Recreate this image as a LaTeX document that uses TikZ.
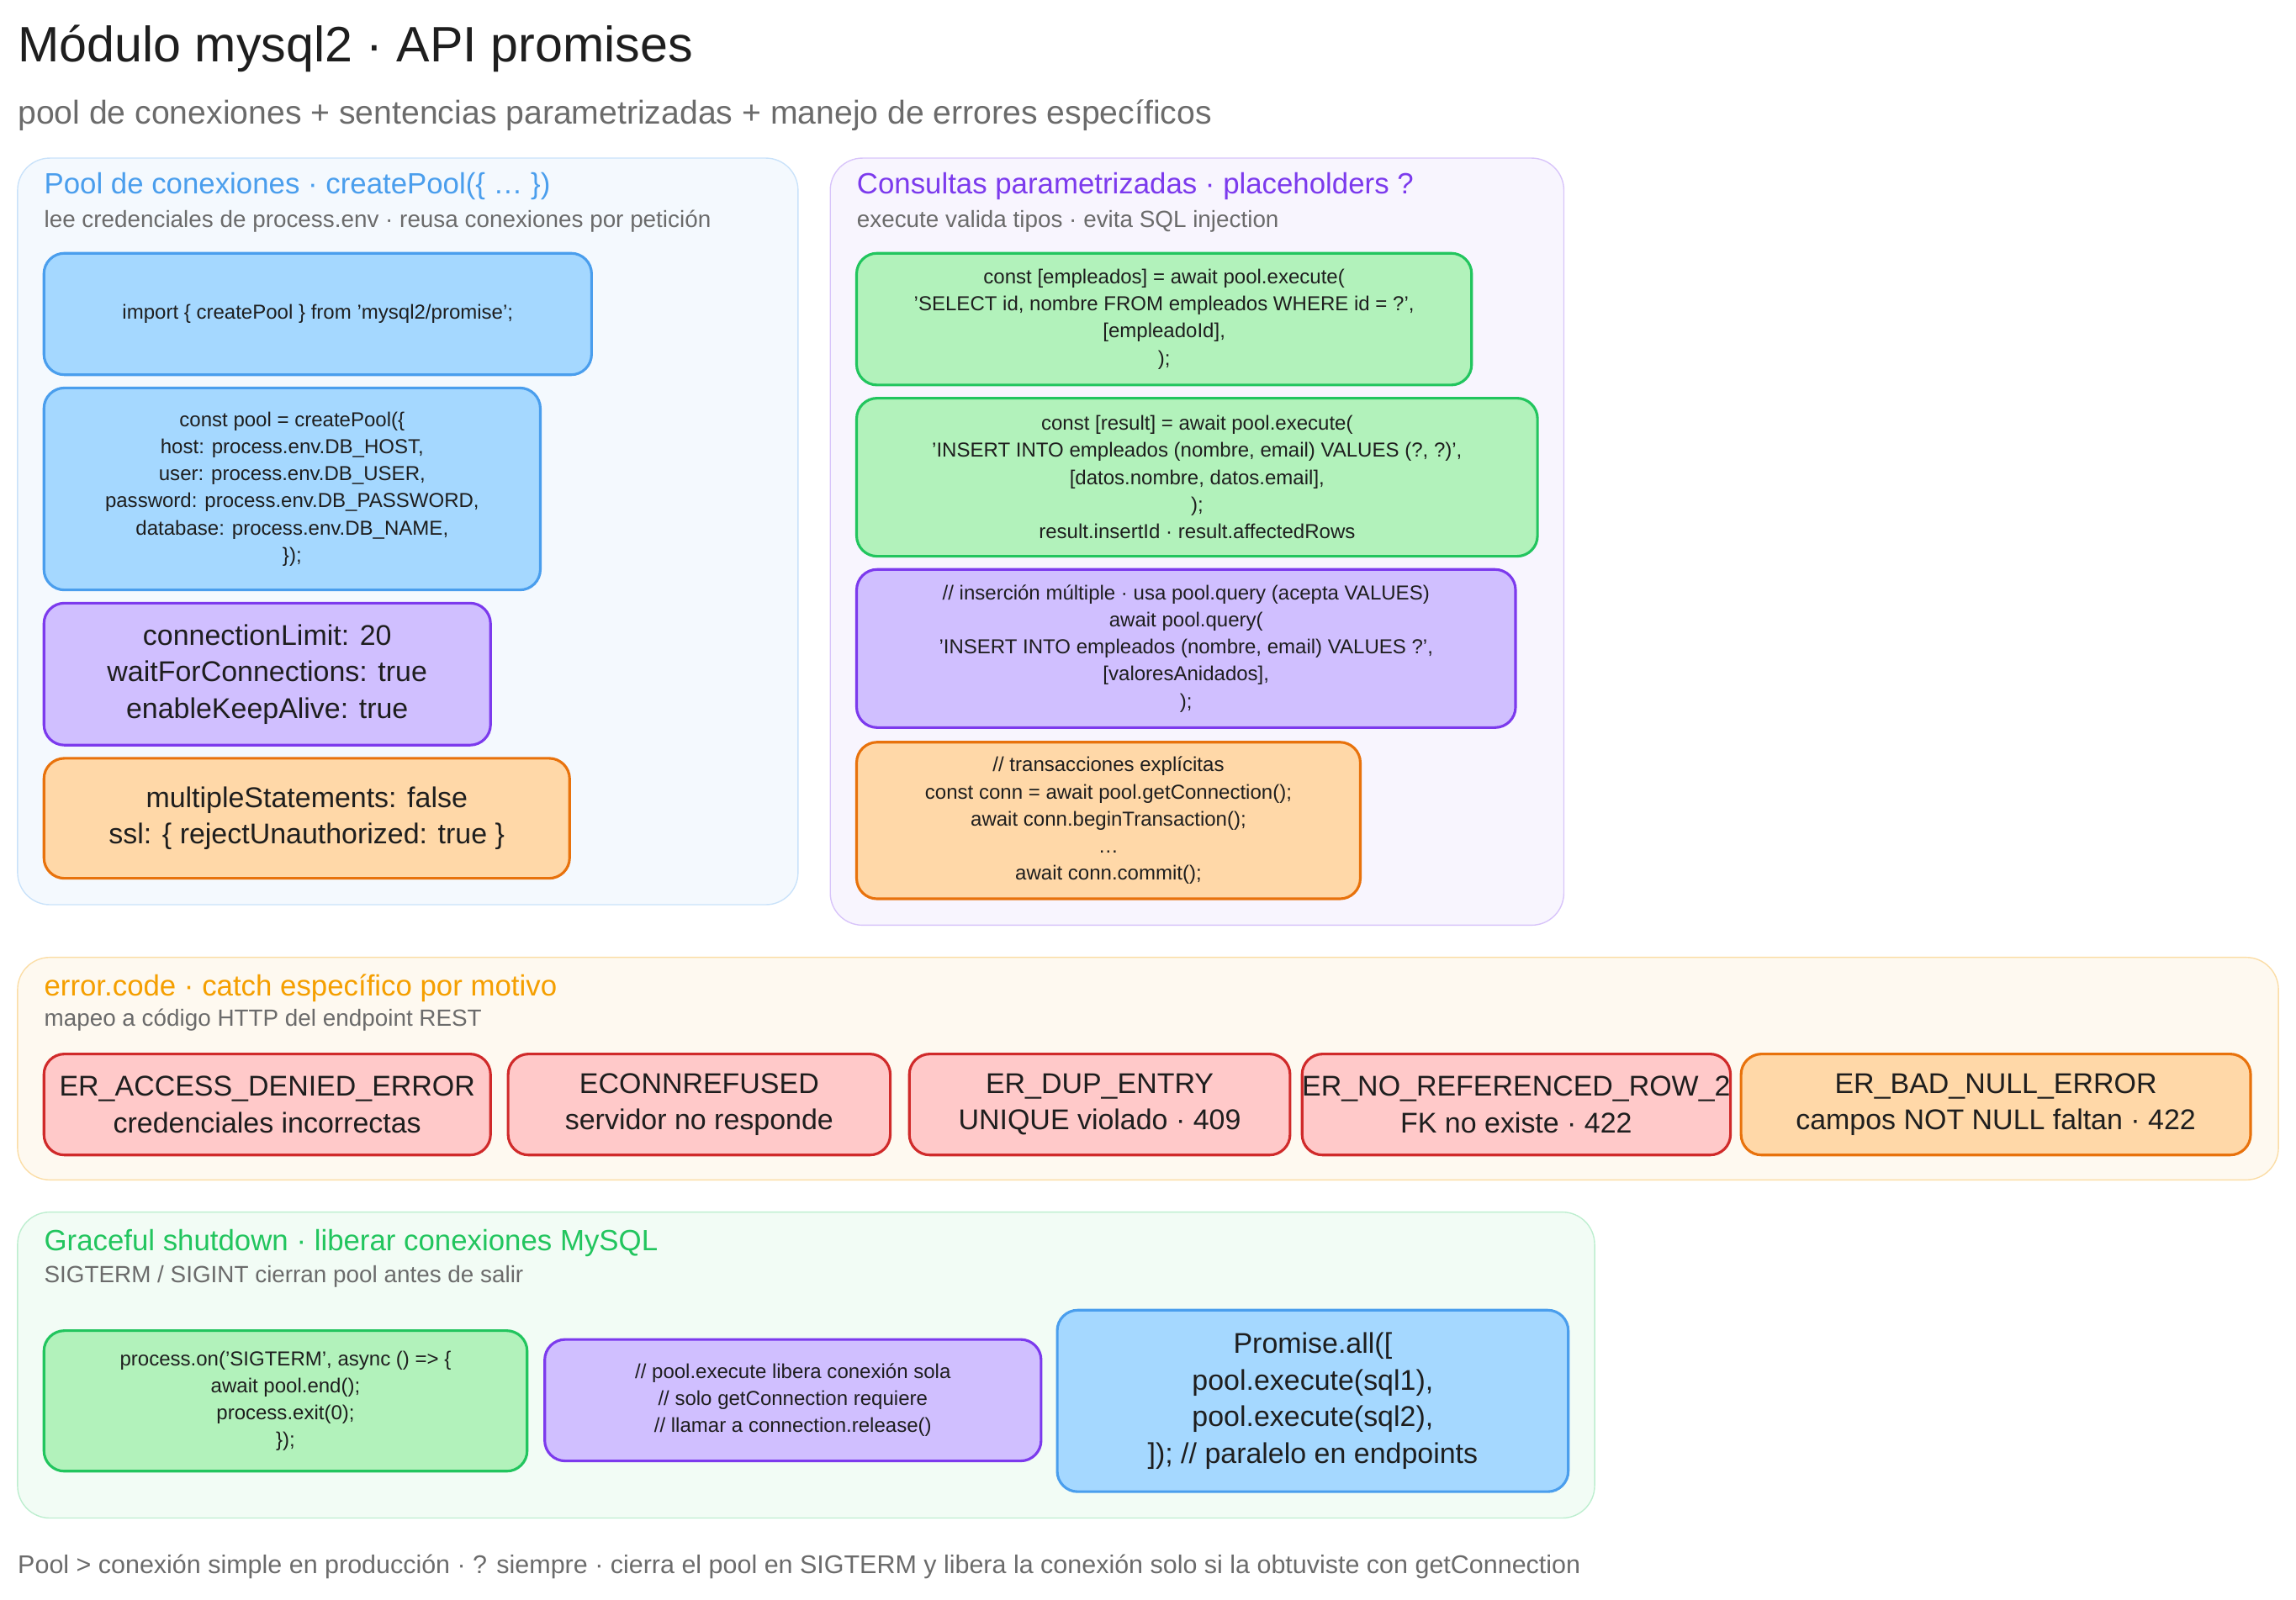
\documentclass[tikz,border=0pt]{standalone}
\usepackage{fontspec}
\setmainfont{Liberation Sans}
\definecolor{ink}{HTML}{1E1E1E}
\definecolor{muted}{HTML}{6B6B6B}
\definecolor{bluefill}{HTML}{A5D8FF}
\definecolor{blueline}{HTML}{4A9EED}
\definecolor{purplefill}{HTML}{D0BFFF}
\definecolor{purpleline}{HTML}{7C3AED}
\definecolor{greenfill}{HTML}{B2F2BB}
\definecolor{greenline}{HTML}{22C55E}
\definecolor{orangefill}{HTML}{FFD8A8}
\definecolor{orangeline}{HTML}{E8720C}
\definecolor{redfill}{HTML}{FFC9C9}
\definecolor{redline}{HTML}{D02A2A}
\definecolor{titleyellow}{HTML}{F59F00}
\begin{document}
\begin{tikzpicture}
	[	x=1pt,y=-1pt,
	box/.style={rectangle,rounded corners=14pt,line width=1.8pt,align=center,inner sep=0pt,text=ink,font=\fontsize{13.8}{18.5}\selectfont},
	big/.style={font=\fontsize{19.5}{25}\selectfont},
	bluebox/.style={box,draw=blueline,fill=bluefill},
	purplebox/.style={box,draw=purpleline,fill=purplefill},
	greenbox/.style={box,draw=greenline,fill=greenfill},
	orangebox/.style={box,draw=orangeline,fill=orangefill},
	redbox/.style={box,big,draw=redline,fill=redfill},
	panel/.style={rounded corners=22pt,line width=0.8pt},
	ptitle/.style={anchor=west,inner sep=0pt,font=\fontsize{20}{22}\selectfont},
	psub/.style={anchor=west,inner sep=0pt,text=muted,font=\fontsize{16}{18}\selectfont}
	]
	\useasboundingbox (0,0) rectangle (1568,1093);

	\node[anchor=west,inner sep=0pt,text=ink,font=\fontsize{34}{36}\selectfont] (title) at (12,33){Módulo mysql2 · API promises};
	\node[anchor=west,inner sep=0pt,text=muted,font=\fontsize{22.5}{24}\selectfont] (subtitle) at (12,79){pool de conexiones + sentencias parametrizadas + manejo de errores específicos};

	% pool
	\draw[panel,draw=blueline!30,fill=blueline!6] (12,108) rectangle (545,618);
	\node[ptitle,text=blueline] (pooltitle) at (30,127){Pool de conexiones · createPool(\{ … \})};
	\node[psub] (poolsub) at (30,151){lee credenciales de process.env · reusa conexiones por petición};
	\node[bluebox,minimum width=374pt,minimum height=83pt] (import) at (217,214.5){import \{ createPool \} from 'mysql2/promise';};
	\node[bluebox,minimum width=339pt,minimum height=138pt] (create) at (199.5,334){const pool = createPool(\{\\host: process.env.DB\_HOST,\\user: process.env.DB\_USER,\\password: process.env.DB\_PASSWORD,\\database: process.env.DB\_NAME,\\\});};
	\node[purplebox,big,minimum width=305pt,minimum height=97pt] (limits) at (182.5,460.5){connectionLimit: 20\\waitForConnections: true\\enableKeepAlive: true};
	\node[orangebox,big,minimum width=359pt,minimum height=82pt] (secure) at (209.5,559){multipleStatements: false\\ssl: \{ rejectUnauthorized: true \}};

	% consultas
	\draw[panel,draw=purpleline!30,fill=purpleline!5] (567,108) rectangle (1068,632);
	\node[ptitle,text=purpleline] (querytitle) at (585,127){Consultas parametrizadas · placeholders ?};
	\node[psub] (querysub) at (585,151){execute valida tipos · evita SQL injection};
	\node[greenbox,minimum width=420pt,minimum height=90pt] (select) at (795,218){const [empleados] = await pool.execute(\\'SELECT id, nombre FROM empleados WHERE id = ?',\\{}[empleadoId],\\);};
	\node[greenbox,minimum width=465pt,minimum height=108pt] (insert) at (817.5,326){const [result] = await pool.execute(\\'INSERT INTO empleados (nombre, email) VALUES (?, ?)',\\{}[datos.nombre, datos.email],\\);\\result.insertId · result.affectedRows};
	\node[purplebox,minimum width=450pt,minimum height=108pt] (bulk) at (810,443){// inserción múltiple · usa pool.query (acepta VALUES)\\await pool.query(\\'INSERT INTO empleados (nombre, email) VALUES ?',\\{}[valoresAnidados],\\);};
	\node[orangebox,minimum width=344pt,minimum height=107pt] (tx) at (757,560.5){// transacciones explícitas\\const conn = await pool.getConnection();\\await conn.beginTransaction();\\…\\await conn.commit();};

	% errores
	\draw[panel,draw=titleyellow!35,fill=titleyellow!6] (12,654) rectangle (1556,806);
	\node[ptitle,text=titleyellow] (errtitle) at (30,675){error.code · catch específico por motivo};
	\node[psub] (errsub) at (30,697){mapeo a código HTTP del endpoint REST};
	\node[redbox,minimum width=305pt,minimum height=69pt] (denied) at (182.5,754.5){ER\_ACCESS\_DENIED\_ERROR\\credenciales incorrectas};
	\node[redbox,minimum width=261pt,minimum height=69pt] (refused) at (477.5,754.5){ECONNREFUSED\\servidor no responde};
	\node[redbox,minimum width=260pt,minimum height=69pt] (dup) at (751,754.5){ER\_DUP\_ENTRY\\UNIQUE violado · 409};
	\node[redbox,minimum width=283pt,minimum height=69pt] (noref) at (1035.5,754.5){ER\_NO\_REFERENCED\_ROW\_2\\FK no existe · 422};
	\node[orangebox,big,minimum width=348pt,minimum height=69pt] (badnull) at (1363,754.5){ER\_BAD\_NULL\_ERROR\\campos NOT NULL faltan · 422};

	% shutdown
	\draw[panel,draw=greenline!30,fill=greenline!6] (12,828) rectangle (1089,1037);
	\node[ptitle,text=greenline] (shuttitle) at (30,849){Graceful shutdown · liberar conexiones MySQL};
	\node[psub] (shutsub) at (30,872){SIGTERM / SIGINT cierran pool antes de salir};
	\node[greenbox,minimum width=330pt,minimum height=96pt] (sigterm) at (195,957){process.on('SIGTERM', async () => \{\\await pool.end();\\process.exit(0);\\\});};
	\node[purplebox,minimum width=339pt,minimum height=83pt] (release) at (541.5,956.5){// pool.execute libera conexión sola\\// solo getConnection requiere\\// llamar a connection.release()};
	\node[bluebox,big,minimum width=349pt,minimum height=124pt] (parallel) at (896.5,957){Promise.all([\\pool.execute(sql1),\\pool.execute(sql2),\\]); // paralelo en endpoints};

	\node[psub,font=\fontsize{17.5}{19}\selectfont] (footer) at (12,1070){Pool > conexión simple en producción · ? siempre · cierra el pool en SIGTERM y libera la conexión solo si la obtuviste con getConnection};
\end{tikzpicture}
\end{document}
